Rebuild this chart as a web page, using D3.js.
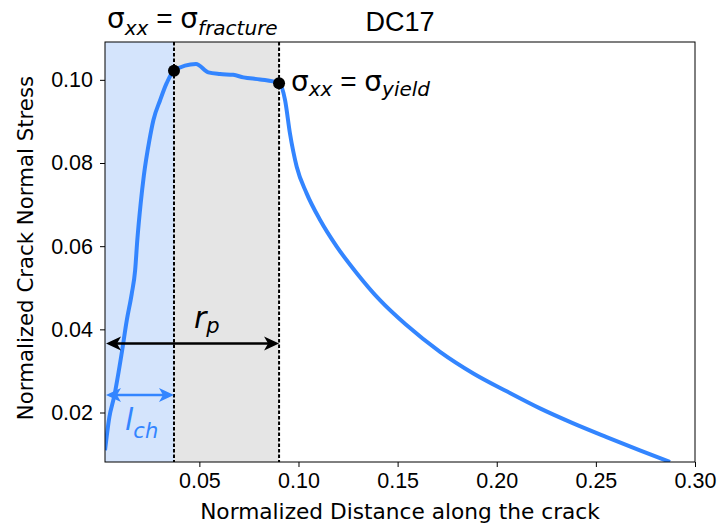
<!DOCTYPE html>
<html>
<head>
<meta charset="utf-8">
<script src="https://cdn.jsdelivr.net/npm/d3@7"></script>
<style>
  html, body { margin: 0; padding: 0; background: #fff; }
  svg { display: block; font-family: "Liberation Sans", Arial, sans-serif; }
</style>
</head>
<body>
<div id="chart"></div>
<script>
// DC17 crack-tip stress profile, normalized distance vs normalized normal stress.
var curveX = [0.0024, 0.0046, 0.0070, 0.0108, 0.0134, 0.0159, 0.0176, 0.0187, 0.0204,
  0.0220, 0.0248, 0.0268, 0.0302, 0.0335, 0.0372, 0.0483, 0.0545, 0.0604, 0.0671,
  0.0722, 0.0806, 0.0902, 0.0932, 0.0957, 0.0991, 0.1041, 0.1109, 0.1193, 0.1294,
  0.1411, 0.1540, 0.1714, 0.1882, 0.2050, 0.2218, 0.2386, 0.2554, 0.2722, 0.2874];
var curveY = [0.0109, 0.0189, 0.0238, 0.0342, 0.0422, 0.0486, 0.0542, 0.0615, 0.0703,
  0.0770, 0.0855, 0.0903, 0.0951, 0.0992, 0.1022, 0.1038, 0.1018, 0.1014, 0.1012,
  0.1006, 0.1001, 0.0992, 0.0952, 0.0871, 0.0791, 0.0727, 0.0663, 0.0599, 0.0535,
  0.0470, 0.0412, 0.0346, 0.0294, 0.0251, 0.0210, 0.0174, 0.0141, 0.0109, 0.0081];
var markX = [0.0372, 0.0902];          // fracture point, yield point
var markY = [0.1022, 0.0992];
var lch = 0.0372, rp = 0.0902;        // zone boundaries
var arrowRpY = 0.0366, arrowLchY = 0.0242;
var xTicks = [0.05, 0.10, 0.15, 0.20, 0.25, 0.30];
var yTicks = [0.02, 0.04, 0.06, 0.08, 0.10];
var xDomain = [0.0024, 0.30], yDomain = [0.0081, 0.1091];

(function () {
  "use strict";
  var W = 720, H = 527, M = { t: 42, r: 25, b: 65, l: 105 };
  var BLUE = "#3385ff";
  var SANS = "'Liberation Sans', Arial, sans-serif", DJV = "'DejaVu Sans', sans-serif";

  var svg = d3.select("#chart").append("svg").attr("width", W).attr("height", H);
  var x = d3.scaleLinear().domain(xDomain).range([M.l, W - M.r]);
  var y = d3.scaleLinear().domain(yDomain).range([H - M.b, M.t]);

  svg.append("clipPath").attr("id", "clip").append("rect")
    .attr("x", M.l).attr("y", M.t)
    .attr("width", W - M.r - M.l).attr("height", H - M.b - M.t);
  var g = svg.append("g").attr("clip-path", "url(#clip)");

  // shaded zones
  g.append("rect").attr("x", x(xDomain[0])).attr("y", M.t)
    .attr("width", x(lch) - x(xDomain[0])).attr("height", H - M.b - M.t)
    .attr("fill", "#d4e4fc");
  g.append("rect").attr("x", x(lch)).attr("y", M.t)
    .attr("width", x(rp) - x(lch)).attr("height", H - M.b - M.t)
    .attr("fill", "#e5e5e5");
  [lch, rp].forEach(function (v) {
    g.append("line").attr("x1", x(v)).attr("x2", x(v))
      .attr("y1", M.t).attr("y2", H - M.b)
      .attr("stroke", "#000").attr("stroke-width", 2)
      .attr("stroke-dasharray", "3.5,2");
  });

  // stress curve
  var pts = curveX.map(function (v, i) { return [v, curveY[i]]; });
  g.append("path").datum(pts)
    .attr("d", d3.line().curve(d3.curveMonotoneX)
      .x(function (d) { return x(d[0]); })
      .y(function (d) { return y(d[1]); }))
    .attr("fill", "none").attr("stroke", BLUE).attr("stroke-width", 4)
    .attr("stroke-linejoin", "round");

  g.selectAll("circle.mk").data(markX).enter().append("circle")
    .attr("cx", function (d) { return x(d); })
    .attr("cy", function (d, i) { return y(markY[i]); })
    .attr("r", 6).attr("fill", "#000");

  // double-headed arrows
  function head(px, py, dir, col) { // dir: +1 points right, -1 points left
    var L = 15, hw = 7, back = 4;
    var p = "M" + px + "," + py +
      "L" + (px - dir * L) + "," + (py - hw) +
      "L" + (px - dir * (L - back)) + "," + py +
      "L" + (px - dir * L) + "," + (py + hw) + "Z";
    svg.append("path").attr("d", p).attr("fill", col);
  }
  function arrow(x0, x1, yy, col) {
    svg.append("line").attr("x1", x0 + 8).attr("x2", x1 - 8)
      .attr("y1", yy).attr("y2", yy)
      .attr("stroke", col).attr("stroke-width", 2.5);
    head(x0, yy, -1, col);
    head(x1, yy, 1, col);
  }
  arrow(x(xDomain[0]) + 1, x(rp), y(arrowRpY), "#000");
  arrow(x(xDomain[0]) + 1, x(lch), y(arrowLchY), BLUE);

  // axes
  var ax = svg.append("g").attr("transform", "translate(0," + (H - M.b) + ")")
    .call(d3.axisBottom(x).tickValues(xTicks).tickFormat(d3.format(".2f"))
      .tickSize(5).tickPadding(6));
  var ay = svg.append("g").attr("transform", "translate(" + M.l + ",0)")
    .call(d3.axisLeft(y).tickValues(yTicks).tickFormat(d3.format(".2f"))
      .tickSize(5).tickPadding(7));
  [ax, ay].forEach(function (a) {
    a.select(".domain").remove();
    a.selectAll("line").attr("stroke", "#000");
    a.selectAll("text").attr("fill", "#000")
      .style("font-size", "21.5px").style("font-family", SANS);
  });
  svg.append("rect").attr("x", M.l).attr("y", M.t)
    .attr("width", W - M.r - M.l).attr("height", H - M.b - M.t)
    .attr("fill", "none").attr("stroke", "#000").attr("stroke-width", 1);

  svg.append("text").attr("x", (M.l + W - M.r) / 2).attr("y", 519)
    .attr("text-anchor", "middle").style("font-size", "21.7px").style("font-family", DJV)
    .text("Normalized Distance along the crack");
  svg.append("text").attr("transform", "rotate(-90)")
    .attr("x", -248).attr("y", 33)
    .attr("text-anchor", "middle").style("font-size", "21.3px").style("font-family", DJV)
    .text("Normalized Crack Normal Stress");
  svg.append("text").attr("x", (M.l + W - M.r) / 2).attr("y", 31)
    .attr("text-anchor", "middle").style("font-size", "27px").text("DC17");

  // math-like labels: [text, italic, subscript, plainFont]
  function mathText(px, py, main, sub, shift, parts, col) {
    var t = svg.append("text").attr("x", px).attr("y", py).attr("fill", col || "#000")
      .style("font-size", main + "px").style("font-family", DJV);
    var down = false;
    parts.forEach(function (p) {
      var s = t.append("tspan").text(p[0]);
      if (p[1]) s.style("font-style", "italic");
      if (p[3]) s.style("font-family", SANS);
      if (p[2]) {
        s.style("font-size", sub + "px");
        if (!down) { s.attr("dy", shift); down = true; }
      } else if (down) { s.attr("dy", -shift); down = false; }
    });
  }
  mathText(107, 28, 28, 20, 7, [["σ"], ["xx", 1, 1], [" = ", 0, 0, 1], ["σ"], ["fracture", 1, 1]]);
  mathText(291, 91, 28, 20, 5, [["σ"], ["xx", 1, 1], [" = ", 0, 0, 1], ["σ"], ["yield", 1, 1]]);
  mathText(194, 328, 30, 21, 5, [["r", 1], ["p", 1, 1]]);
  mathText(125, 430, 30, 21, 8, [["l", 1], ["ch", 1, 1]], BLUE);
})();
</script>
</body>
</html>
